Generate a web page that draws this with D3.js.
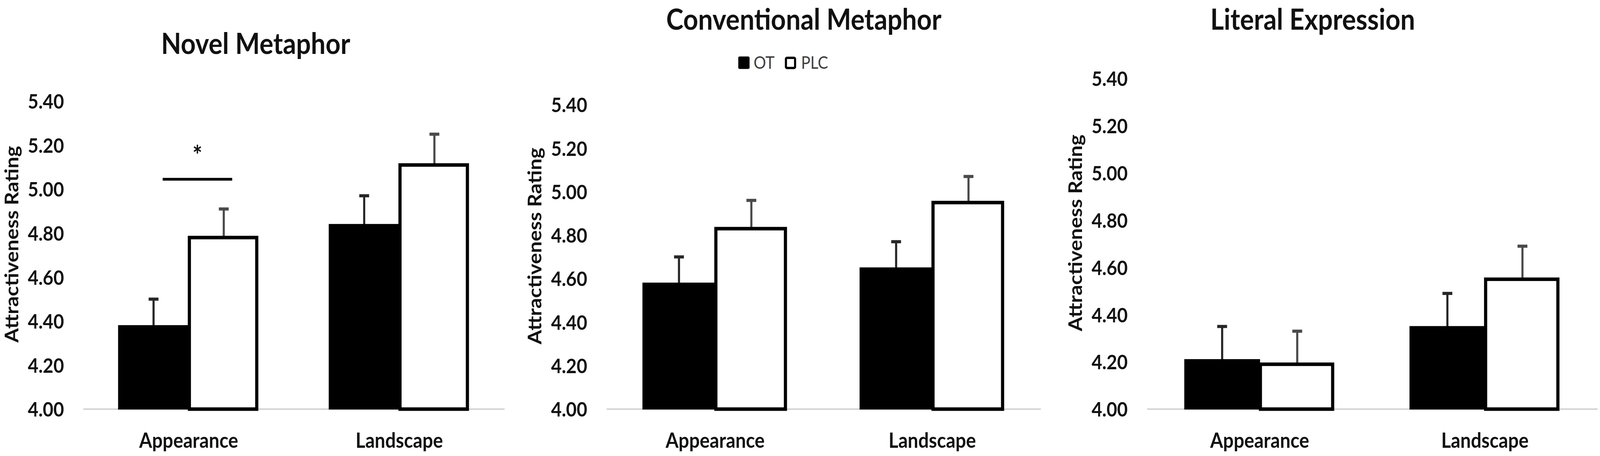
<!DOCTYPE html>
<html>
<head>
<meta charset="utf-8">
<script src="https://cdn.jsdelivr.net/npm/d3@7"></script>
<style>
  html, body { margin: 0; padding: 0; background: #fff; overflow: hidden; }
  svg { display: block; font-family: Lato, "Open Sans", sans-serif; }
</style>
</head>
<body>
<script>
// data
const categories = ["Appearance", "Landscape"];
const groups = ["OT", "PLC"];
const panelTitles = ["Novel Metaphor", "Conventional Metaphor", "Literal Expression"];
const otMeans = [[4.38, 4.84], [4.58, 4.65], [4.21, 4.35]];
const otErrors = [[0.12, 0.13], [0.12, 0.12], [0.14, 0.14]];
const plcMeans = [[4.78, 5.11], [4.83, 4.95], [4.19, 4.55]];
const plcErrors = [[0.13, 0.14], [0.13, 0.12], [0.14, 0.14]];
const yTicks = [4.0, 4.2, 4.4, 4.6, 4.8, 5.0, 5.2, 5.4];
const yLabel = "Attractiveness Rating";
// significance bar: panel 0, Appearance, drawn at 5.045
const sigPanel = [0];
const sigCategory = ["Appearance"];
const sigLevel = [5.045];
const sigText = ["*"];

let width = 4550;
let height = 1167;

// layout of each panel (pixels)
let panels = [
  {x0: 237,  x1: 1435, yTop: 259, yBot: 1047, titleX: 727,  titleY: 138},
  {x0: 1725, x1: 2960, yTop: 268, yBot: 1047, titleX: 2286, titleY: 76},
  {x0: 3262, x1: 4543, yTop: 201, yBot: 1047, titleX: 3733, titleY: 76}
];

// drawing is done in 4550x1167 units and stretched onto the window
let svg = d3.select("body").append("svg")
  .attr("viewBox", "0 0 " + width + " " + height)
  .attr("preserveAspectRatio", "none")
  .style("width", "100vw").style("height", "100vh")

svg.append("rect").attr("width", width).attr("height", height).attr("fill", "#fff")

panels.forEach((p, pi) => {
  let g = svg.append("g").attr("class", "panel " + pi)

  let x = d3.scaleBand().domain(categories).range([p.x0, p.x1])
            .paddingInner(1/3).paddingOuter(1/6)
  let xSub = d3.scaleBand().domain(groups).range([0, x.bandwidth()])
  let y = d3.scaleLinear().domain([4.0, 5.4]).range([p.yBot, p.yTop])

  // y axis labels
  let yAxis = d3.axisLeft(y).tickValues(yTicks).tickFormat(d3.format(".2f"))
                .tickSize(0).tickPadding(55)
  let ya = g.append("g").attr("transform", "translate(" + p.x0 + ",0)").call(yAxis)
  ya.select(".domain").remove()
  ya.selectAll("text")
    .attr("font-family", "Lato, sans-serif")
    .attr("font-size", 52).attr("font-weight", "bold").attr("fill", "#111")
    .attr("dy", "0.36em")

  // baseline
  g.append("line")
    .attr("x1", p.x0).attr("x2", p.x1)
    .attr("y1", y(4.0)).attr("y2", y(4.0))
    .attr("stroke", "#d4d4d4").attr("stroke-width", 4)

  let rows = categories.map((c, ci) => ({
    cat: c,
    vals: [
      {grp: "OT", mean: otMeans[pi][ci], err: otErrors[pi][ci]},
      {grp: "PLC", mean: plcMeans[pi][ci], err: plcErrors[pi][ci]}
    ]
  }))

  let catG = g.selectAll("g.cat")
    .data(rows)
    .enter().append("g")
      .attr("class", "cat")
      .attr("transform", d => "translate(" + x(d.cat) + ",0)")

  // error bars (upper only), drawn first so the bar top covers the stem
  catG.selectAll("line.err")
    .data(d => d.vals)
    .enter().append("line")
      .attr("class", "err")
      .attr("x1", d => xSub(d.grp) + xSub.bandwidth() / 2)
      .attr("x2", d => xSub(d.grp) + xSub.bandwidth() / 2)
      .attr("y1", d => y(d.mean))
      .attr("y2", d => y(d.mean + d.err))
      .attr("stroke", d => d.grp == "OT" ? "#262626" : "#4a4a4a").attr("stroke-width", 6)

  catG.selectAll("line.cap")
    .data(d => d.vals)
    .enter().append("line")
      .attr("class", "cap")
      .attr("x1", d => xSub(d.grp) + xSub.bandwidth() / 2 - 14)
      .attr("x2", d => xSub(d.grp) + xSub.bandwidth() / 2 + 14)
      .attr("y1", d => y(d.mean + d.err))
      .attr("y2", d => y(d.mean + d.err))
      .attr("stroke", d => d.grp == "OT" ? "#262626" : "#4a4a4a").attr("stroke-width", 8)

  catG.selectAll("rect")
    .data(d => d.vals)
    .enter().append("rect")
      .attr("x", d => d.grp == "OT" ? xSub(d.grp) : xSub(d.grp) + 2)
      .attr("y", d => y(d.mean))
      .attr("width", d => d.grp == "OT" ? xSub.bandwidth() : xSub.bandwidth() - 8)
      .attr("height", d => y(4.0) - y(d.mean))
      .attr("fill", d => d.grp == "OT" ? "#000" : "#fff")
      .attr("stroke", "#000")
      .attr("stroke-width", d => d.grp == "OT" ? 2 : 9)

  // category labels
  g.selectAll("text.catlabel")
    .data(categories)
    .enter().append("text")
      .attr("class", "catlabel")
      .attr("x", d => x(d) + x.bandwidth() / 2)
      .attr("y", 1146)
      .attr("text-anchor", "middle")
      .attr("font-size", 53).attr("font-weight", "bold").attr("fill", "#111")
      .text(d => d)

  // y title
  g.append("text")
    .attr("transform", "translate(" + (p.x0 - 185) + "," + ((p.yTop + p.yBot) / 2 - 28) + ") rotate(-90)")
    .attr("text-anchor", "middle")
    .attr("font-size", 53).attr("font-weight", "bold").attr("fill", "#111")
    .text(yLabel)

  // panel title
  g.append("text")
    .attr("x", p.titleX).attr("y", p.titleY)
    .attr("text-anchor", "middle")
    .attr("font-size", 74).attr("font-weight", "bold").attr("fill", "#111")
    .text(panelTitles[pi])

  // significance marks
  sigPanel.forEach((sp, si) => {
    if (sp != pi) return
    let cx = x(sigCategory[si])
    let xa = cx + xSub("OT") + xSub.bandwidth() * 0.63
    let xb = cx + xSub("PLC") + xSub.bandwidth() * 0.62
    g.append("line")
      .attr("x1", xa).attr("x2", xb)
      .attr("y1", y(sigLevel[si])).attr("y2", y(sigLevel[si]))
      .attr("stroke", "#000").attr("stroke-width", 7)
    g.append("text")
      .attr("x", (xa + xb) / 2).attr("y", y(sigLevel[si]) - 38)
      .attr("text-anchor", "middle")
      .attr("font-size", 66).attr("font-weight", "bold").attr("fill", "#111")
      .text(sigText[si])
  })
})

// legend
let legend = svg.append("g").attr("class", "legend").attr("transform", "translate(2100,145)")
let legendItems = legend.selectAll("g")
  .data(groups)
  .enter().append("g")
    .attr("transform", (d, i) => "translate(" + (i * 132) + ",0)")

legendItems.append("rect")
  .attr("x", (d, i) => i == 0 ? 0 : 3).attr("y", (d, i) => i == 0 ? 0 : 3)
  .attr("width", (d, i) => i == 0 ? 31 : 26).attr("height", (d, i) => i == 0 ? 31 : 26)
  .attr("rx", 3)
  .attr("fill", d => d == "OT" ? "#000" : "#fff")
  .attr("stroke", "#000").attr("stroke-width", (d, i) => i == 0 ? 1 : 6)

legendItems.append("text")
  .attr("x", (d, i) => i == 0 ? 43 : 46)
  .attr("y", 31)
  .attr("font-size", 44).attr("fill", "#404040")
  .text(d => d)
</script>
</body>
</html>
